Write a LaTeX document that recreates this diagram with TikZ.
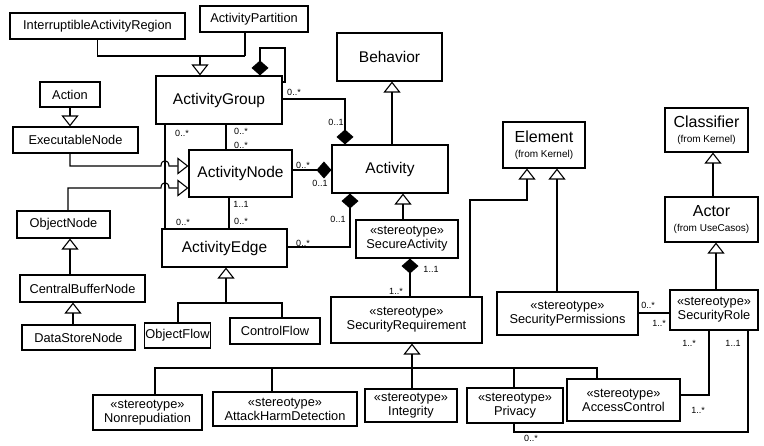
\documentclass[tikz,border=0pt]{standalone}
\usepackage{fontspec}
\setmainfont{Liberation Sans}
\usetikzlibrary{arrows.meta,calc}
\begin{document}
\begin{tikzpicture}[x=1pt,y=-1pt,line width=1.1pt,
  cls/.style={draw, fill=white, inner sep=1pt, align=center, font=\fontsize{12.8}{14}\selectfont},
  big/.style={cls, font=\fontsize{15.5}{17}\selectfont},
  mult/.style={font=\fontsize{9}{10}\selectfont, inner sep=0pt},
  gen/.style={-{Triangle[open,length=11pt,width=17pt]}},
  comp/.style={-{Diamond[length=15pt,width=17pt]}},
  compst/.style={{Diamond[length=15pt,width=17pt]}-},
]
\useasboundingbox (0,0) rectangle (764,446);
% ---------- classes ----------
\node[cls, minimum width=175pt, minimum height=26pt] (iar) at (97.5,26) {InterruptibleActivityRegion};
\node[cls, minimum width=108pt, minimum height=26pt] (ap) at (254,19) {ActivityPartition};
\node[big, minimum width=126pt, minimum height=48pt] (ag) at (219,100) {ActivityGroup};
\node[big, minimum width=105pt, minimum height=48pt] (beh) at (389.5,57) {Behavior};
\node[cls, minimum width=60pt, minimum height=25pt] (action) at (70,94.5) {Action};
\node[cls, minimum width=125pt, minimum height=26pt] (en) at (75.5,140) {ExecutableNode};
\node[big, minimum width=103pt, minimum height=47pt] (an) at (240.5,173.5) {ActivityNode};
\node[big, minimum width=116pt, minimum height=48pt] (act) at (390,169) {Activity};
\node[cls, minimum width=93pt, minimum height=27pt] (on) at (63.5,224.5) {ObjectNode};
\node[big, minimum width=125pt, minimum height=38pt] (ae) at (224.5,248) {ActivityEdge};
\node[cls, minimum width=102pt, minimum height=38pt] (sa) at (407,239) {«stereotype»\\SecureActivity};
\node[cls, minimum width=125pt, minimum height=27pt] (cbn) at (82.5,288.5) {CentralBufferNode};
\node[cls, minimum width=113pt, minimum height=25pt] (dsn) at (78.5,337.5) {DataStoreNode};
\node[cls, minimum width=65pt, minimum height=25pt] (of) at (177.5,335.5) {ObjectFlow};
\node[cls, minimum width=90pt, minimum height=26pt] (cf) at (275,331) {ControlFlow};
\node[cls, minimum width=151pt, minimum height=46pt] (sr) at (406.5,320) {«stereotype»\\SecurityRequirement};
\node[cls, minimum width=82pt, minimum height=46pt] (el) at (544,145) {{\fontsize{16}{18}\selectfont Element}\\[1pt]{\fontsize{10}{11}\selectfont (from Kernel)}};
\node[cls, minimum width=141pt, minimum height=43pt] (sp) at (567.5,313.5) {«stereotype»\\SecurityPermissions};
\node[cls, minimum width=83pt, minimum height=44pt] (cl) at (706.5,130) {{\fontsize{16}{18}\selectfont Classifier}\\[1pt]{\fontsize{10}{11}\selectfont (from Kernel)}};
\node[cls, minimum width=93pt, minimum height=45pt] (actor) at (711.5,219.5) {{\fontsize{16}{18}\selectfont Actor}\\[1pt]{\fontsize{10}{11}\selectfont (from UseCasos)}};
\node[cls, minimum width=88pt, minimum height=40pt] (srole) at (714,310) {«stereotype»\\SecurityRole};
\node[cls, minimum width=109pt, minimum height=35pt] (nr) at (147.5,412.5) {«stereotype»\\Nonrepudiation};
\node[cls, minimum width=144pt, minimum height=34pt] (ahd) at (285,409) {«stereotype»\\AttackHarmDetection};
\node[cls, minimum width=92pt, minimum height=33pt] (integ) at (411,405.5) {«stereotype»\\Integrity};
\node[cls, minimum width=96pt, minimum height=35pt] (priv) at (515,405.5) {«stereotype»\\Privacy};
\node[cls, minimum width=113pt, minimum height=42pt] (ac) at (623.5,400) {«stereotype»\\AccessControl};
% ---------- helper coordinates ----------
\coordinate (j1) at (200,56);
\coordinate (j2) at (245,56);
\coordinate (s1) at (260,48);
\coordinate (s2) at (285,82);
\coordinate (c3) at (345,99);
\coordinate (c4) at (0,170);
\coordinate (c5) at (226,0);
\coordinate (c6) at (165,0);
\coordinate (c7) at (229,0);
\coordinate (c8) at (350,247);
\coordinate (c9) at (392,0);
\coordinate (h1) at (70,166);
\coordinate (h2) at (68,188);
\coordinate (c10) at (70,0);
\coordinate (c11) at (73,0);
\coordinate (t1) at (178,303);
\coordinate (t2) at (282,303);
\coordinate (t3) at (226,303);
\coordinate (c12) at (403,0);
\coordinate (c13) at (410,0);
\coordinate (e1) at (470,200);
\coordinate (e2) at (527,200);
\coordinate (c14) at (557,0);
\coordinate (c15) at (713,0);
\coordinate (c16) at (716,0);
\coordinate (c17) at (0,313);
\coordinate (b0) at (412,368);
\coordinate (bl) at (155,368);
\coordinate (br) at (597,368);
\coordinate (b1) at (272,368);
\coordinate (b2) at (514,368);
\coordinate (r1) at (709,395);
\coordinate (r2) at (748,432);
\coordinate (r3) at (514,432);
% ---------- connectors ----------
\draw (iar.south) |- (j2);
\draw (ap.south -| j2) -- (j2);
\draw[gen] (j1) -- (j1 |- ag.north);
\draw[compst] (s1 |- ag.north) -- (s1) -| (s2) -- (s2 -| ag.east);
\draw[comp] (c3 -| ag.east) -- (c3) -- (c3 |- act.north);
\draw[comp] (c4 -| an.east) -- (c4 -| act.west);
\draw (c5 |- ag.south) -- (c5 |- an.north);
\draw (c6 |- ag.south) -- (c6 |- ae.north);
\draw (c7 |- an.south) -- (c7 |- ae.north);
\draw[comp] (c8 -| ae.east) -- (c8) -- (c8 |- act.south);
\draw[gen] (c9 |- act.north) -- (c9 |- beh.south);
\draw[gen] (action.south) -- (action.south |- en.north);
\draw[gen] (h1 |- en.south) -- (h1) -- ($(c6|-h1)+(-4,0)$) .. controls +(0,-7) and +(0,-7) .. ++(8,0) -- (h1 -| an.west);
\draw[gen] (h2 |- on.north) -- (h2) -- ($(c6|-h2)+(-4,0)$) .. controls +(0,-7) and +(0,-7) .. ++(8,0) -- (h2 -| an.west);
\draw[gen] (c10 |- cbn.north) -- (c10 |- on.south);
\draw[gen] (c11 |- dsn.north) -- (c11 |- cbn.south);
\draw (t1 |- of.north) -- (t1) -- (t2) -- (t2 |- cf.north);
\draw[gen] (t3) -- (t3 |- ae.south);
\draw[gen] (c12 |- sa.north) -- (c12 |- act.south);
\draw[compst] (c13 |- sa.south) -- (c13 |- sr.north);
\draw[gen] (e1 |- sr.north) -- (e1) -- (e2) -- (e2 |- el.south);
\draw[gen] (c14 |- sp.north) -- (c14 |- el.south);
\draw[gen] (c15 |- actor.north) -- (c15 |- cl.south);
\draw[gen] (c16 |- srole.north) -- (c16 |- actor.south);
\draw (c17 -| sp.east) -- (c17 -| srole.west);
\draw[gen] (b0 |- integ.north) -- (b0 |- sr.south);
\draw (bl |- nr.north) -- (bl) -- (br) -- (br |- ac.north);
\draw (b1) -- (b1 |- ahd.north);
\draw (b2) -- (b2 |- priv.north);
\draw (r1 |- srole.south) -- (r1) -- (r1 -| ac.east);
\draw (r2 |- srole.south) -- (r2) -- (r3) -- (r3 |- priv.south);
% ---------- multiplicities ----------
\node[mult] at (294,92) {0..*};
\node[mult] at (336,122) {0..1};
\node[mult] at (303,165) {0..*};
\node[mult] at (320,183) {0..1};
\node[mult] at (241,131) {0..*};
\node[mult] at (241,145) {0..*};
\node[mult] at (182,133) {0..*};
\node[mult] at (183,222) {0..*};
\node[mult] at (241,204) {1..1};
\node[mult] at (241,221) {0..*};
\node[mult] at (303,243) {0..*};
\node[mult] at (338,219) {0..1};
\node[mult] at (431,269) {1..1};
\node[mult] at (396,291) {1..*};
\node[mult] at (648,305) {0..*};
\node[mult] at (659,323) {1..*};
\node[mult] at (689,343) {1..*};
\node[mult] at (733,343) {1..1};
\node[mult] at (698,410) {1..*};
\node[mult] at (531,438) {0..*};
\end{tikzpicture}
\end{document}
